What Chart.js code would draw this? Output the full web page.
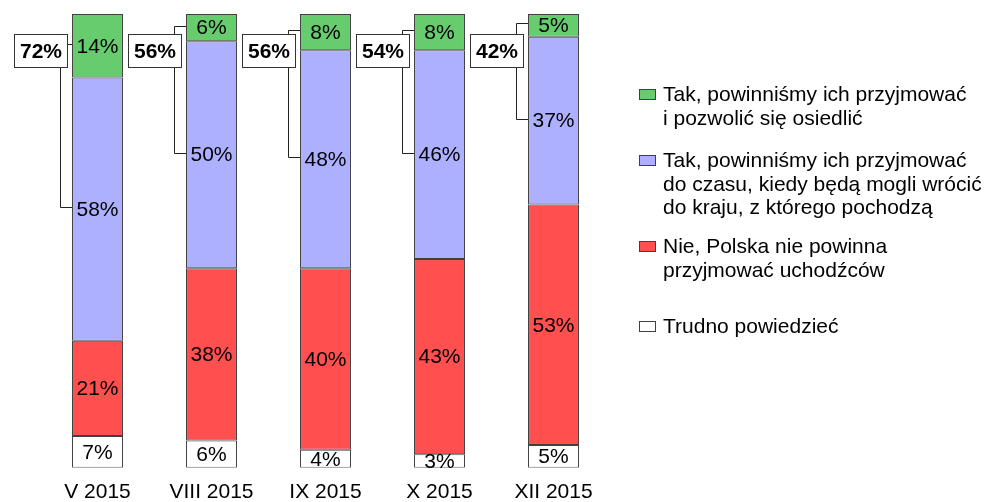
<!DOCTYPE html>
<html>
<head>
<meta charset="utf-8">
<script src="https://cdn.jsdelivr.net/npm/chart.js@4.4.1/dist/chart.umd.min.js"></script>
<style>
  html, body { margin: 0; padding: 0; background: #fff; overflow: hidden; }
  #wrap { position: relative; width: 985px; height: 511px; }
  #legend { position: absolute; left: 639px; top: 0; font: 21px "Liberation Sans", Arial, sans-serif; color: #000; }
  .item { position: absolute; left: 0; white-space: nowrap; }
  .swatch { position: absolute; left: 0; top: 7px; width: 15px; height: 9px; border: 1px solid #404040; }
  .text { position: absolute; left: 24px; top: 0; line-height: 23.5px; }
</style>
</head>
<body>
<div id="wrap">
  <canvas id="chart" width="985" height="511"></canvas>
  <div id="legend"></div>
</div>
<script>
const categories = ["V 2015", "VIII 2015", "IX 2015", "X 2015", "XII 2015"];

// odpowiedzi w % (od góry słupka)
const settle = [14, 6, 8, 8, 5];
const temporary = [58, 50, 48, 46, 37];
const refuse = [21, 38, 40, 43, 53];
const dontKnow = [7, 6, 4, 3, 5];

const seriesLabels = [
    "Tak, powinniśmy ich przyjmować\ni pozwolić się osiedlić",
    "Tak, powinniśmy ich przyjmować\ndo czasu, kiedy będą mogli wrócić\ndo kraju, z którego pochodzą",
    "Nie, Polska nie powinna\nprzyjmować uchodźców",
    "Trudno powiedzieć"
];
const seriesColors = ["#66cc6e", "#adb0ff", "#ff4f4f", "#ffffff"];

const FONT = '"Liberation Sans", Arial, sans-serif';

// etykiety wartości w środku segmentów
const valueLabels = {
    id: "valueLabels",
    afterDatasetsDraw(chart) {
        const ctx = chart.ctx;
        ctx.save();
        ctx.font = "21px " + FONT;
        ctx.fillStyle = "#000";
        ctx.textAlign = "center";
        ctx.textBaseline = "middle";
        chart.data.datasets.forEach((ds, di) => {
            chart.getDatasetMeta(di).data.forEach((bar, i) => {
                ctx.fillText(ds.data[i] + "%", bar.x, (bar.y + bar.base) / 2 + 1);
            });
        });
        ctx.restore();
    }
};

// klamry z sumą odpowiedzi "Tak"
const totalBrackets = {
    id: "totalBrackets",
    afterDatasetsDraw(chart) {
        const ctx = chart.ctx;
        const yScale = chart.scales.y;
        const greenMeta = chart.getDatasetMeta(3);
        const blueMeta = chart.getDatasetMeta(2);
        ctx.save();
        categories.forEach((c, i) => {
            const g = greenMeta.data[i];
            const b = blueMeta.data[i];
            const left = Math.round(g.x - g.width / 2);
            const yTop = Math.round((g.y + g.base) / 2) - 1.5;
            const yBot = Math.round((b.y + b.base) / 2) - 1.5;
            const vx = left - 11.5;

            ctx.strokeStyle = "#222";
            ctx.lineWidth = 1;
            ctx.beginPath();
            ctx.moveTo(left, yTop);
            ctx.lineTo(vx, yTop);
            ctx.lineTo(vx, yBot);
            ctx.lineTo(left, yBot);
            ctx.stroke();

            const bw = 53, bh = 33;
            const bx = left - 5 - bw + 0.5;
            const by = Math.round(yScale.getPixelForValue(92) - bh / 2) + 0.5;
            ctx.fillStyle = "#fff";
            ctx.fillRect(bx, by, bw, bh);
            ctx.strokeStyle = "#333";
            ctx.strokeRect(bx, by, bw, bh);

            ctx.fillStyle = "#000";
            ctx.font = "bold 21px " + FONT;
            ctx.textAlign = "center";
            ctx.textBaseline = "middle";
            ctx.fillText((settle[i] + temporary[i]) + "%", bx + bw / 2, by + bh / 2 + 1);
        });
        ctx.restore();
    }
};

const stacks = [dontKnow, refuse, temporary, settle];
const stackLabels = [seriesLabels[3], seriesLabels[2], seriesLabels[1], seriesLabels[0]];
const stackColors = [seriesColors[3], seriesColors[2], seriesColors[1], seriesColors[0]];

new Chart(document.getElementById("chart"), {
    type: "bar",
    data: {
        labels: categories,
        datasets: stacks.map((d, k) => ({
            label: stackLabels[k],
            data: d,
            backgroundColor: stackColors[k],
            borderColor: "#404040",
            borderWidth: 1,
            borderSkipped: false,
            barPercentage: 0.447,
            categoryPercentage: 1
        }))
    },
    options: {
        responsive: false,
        animation: false,
        layout: { padding: { left: 40.5, right: 374.5, top: 14, bottom: 2 } },
        plugins: { legend: { display: false }, tooltip: { enabled: false } },
        scales: {
            x: {
                stacked: true,
                grid: { display: false },
                border: { display: false },
                ticks: { color: "#000", font: { size: 21, family: FONT }, padding: 4 }
            },
            y: {
                stacked: true,
                display: false,
                min: 0,
                max: 100
            }
        }
    },
    plugins: [valueLabels, totalBrackets]
});

// legenda w HTML
const legendTops = [82, 148, 234, 314];
const legendEl = document.getElementById("legend");
seriesLabels.forEach((lbl, k) => {
    const item = document.createElement("div");
    item.className = "item";
    item.style.top = legendTops[k] + "px";
    item.innerHTML = '<div class="swatch" style="background:' + seriesColors[k] + '"></div>' +
        '<div class="text">' + lbl.split("\n").join("<br>") + '</div>';
    legendEl.appendChild(item);
});
</script>
</body>
</html>
